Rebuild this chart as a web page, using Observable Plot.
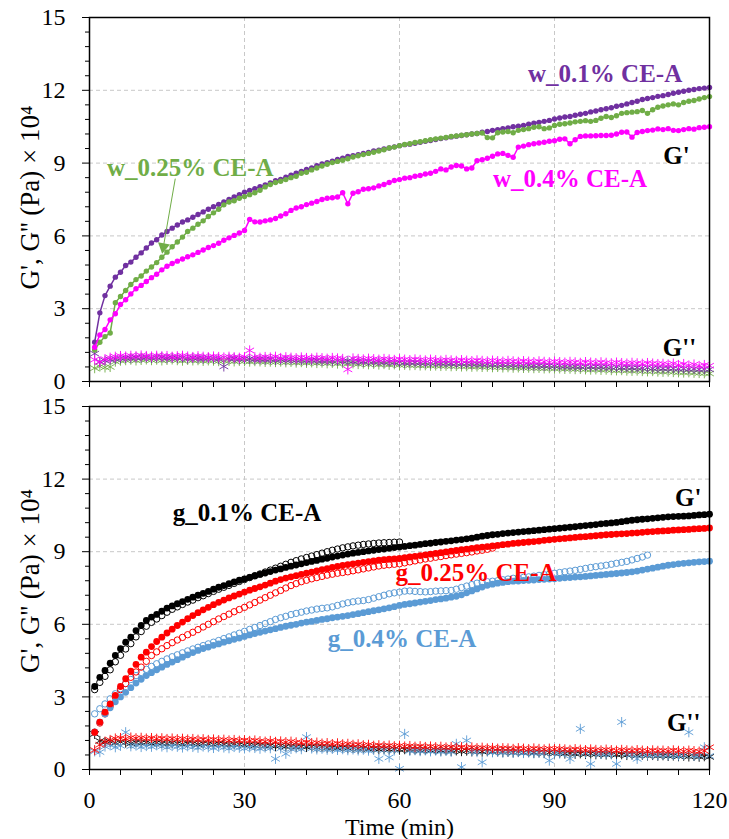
<!DOCTYPE html>
<html><head><meta charset="utf-8">
<script src="https://cdn.jsdelivr.net/npm/d3@7"></script>
<script src="https://cdn.jsdelivr.net/npm/@observablehq/plot@0.6"></script>
<style>
html,body{margin:0;padding:0;background:#fff;}
#chart svg{display:block;}
#chart svg text{font-family:"Liberation Serif","Times New Roman",serif !important;}
</style>
</head><body><div id="chart"></div>
<script>
// ---------- axis ticks ----------
const xMajor = [0, 30, 60, 90, 120];
const xMinor = [6,12,18,24,36,42,48,54,66,72,78,84,96,102,108,114];
const yMajor = [0, 3, 6, 9, 12, 15];
const yMinor = [0.6,1.2,1.8,2.4,3.6,4.2,4.8,5.4,6.6,7.2,7.8,8.4,9.6,10.2,10.8,11.4,12.6,13.2,13.8,14.4];
const xTitle = "Time (min)";
const yTitle = "G', G'' (Pa) × 10⁴";

// ---------- top panel (w_ series), one value per minute from t = 1 ----------
const w01_G1 = [
1.62,2.83,3.54,3.93,4.30,4.50,4.78,4.92,5.12,5.30,
5.50,5.71,5.84,6.04,6.18,6.32,6.45,6.57,6.66,6.77,
6.88,6.99,7.10,7.20,7.30,7.40,7.50,7.60,7.70,7.80,
7.87,7.95,8.03,8.10,8.18,8.27,8.33,8.42,8.50,8.58,
8.66,8.74,8.80,8.89,8.96,9.02,9.08,9.15,9.20,9.27,
9.31,9.35,9.40,9.44,9.50,9.53,9.58,9.62,9.67,9.72,
9.76,9.78,9.82,9.86,9.90,9.93,9.97,10.01,10.04,10.08,
10.11,10.14,10.17,10.20,10.22,10.27,10.30,10.35,10.38,10.42,
10.45,10.50,10.52,10.55,10.60,10.64,10.68,10.72,10.76,10.82,
10.86,10.90,10.92,10.97,11.01,11.05,11.11,11.15,11.20,11.24,
11.28,11.34,11.38,11.44,11.50,11.55,11.62,11.66,11.70,11.75,
11.78,11.83,11.88,11.92,11.96,12.00,12.03,12.07,12.09,12.12];
const w025_G1 = [
1.30,1.62,1.85,2.00,3.25,3.50,3.75,4.00,4.20,4.35,
4.55,4.72,4.90,5.12,5.33,5.55,5.75,5.95,6.18,6.32,
6.48,6.62,6.80,6.95,7.10,7.28,7.40,7.45,7.55,7.62,
7.70,7.78,7.88,8.02,8.12,8.20,8.25,8.32,8.40,8.46,
8.58,8.62,8.72,8.80,8.88,8.95,9.02,9.07,9.12,9.18,
9.25,9.30,9.35,9.40,9.45,9.50,9.55,9.62,9.66,9.72,
9.77,9.80,9.85,9.88,9.92,9.96,10.00,10.03,10.06,10.10,
10.12,10.15,10.17,10.20,10.22,10.24,10.05,10.04,10.25,10.28,
10.30,10.25,10.35,10.38,10.42,10.48,10.50,10.42,10.45,10.55,
10.60,10.62,10.65,10.70,10.72,10.75,10.72,10.76,10.85,10.92,
10.88,10.95,11.05,11.08,11.10,11.12,11.17,11.05,11.20,11.30,
11.35,11.40,11.44,11.40,11.50,11.55,11.58,11.64,11.70,11.74];
const w04_G1 = [
1.41,1.92,2.14,2.54,2.79,3.17,3.37,3.61,3.82,3.96,
4.12,4.28,4.42,4.60,4.75,4.86,4.96,5.05,5.14,5.22,
5.32,5.42,5.52,5.60,5.70,5.82,5.92,6.02,6.12,6.22,
6.68,6.58,6.57,6.62,6.66,6.72,6.82,6.91,7.05,7.15,
7.20,7.29,7.35,7.42,7.50,7.55,7.57,7.60,7.78,7.32,
7.76,7.82,7.92,7.94,7.98,8.06,8.12,8.20,8.28,8.32,
8.38,8.40,8.46,8.49,8.55,8.58,8.66,8.76,8.72,8.84,
8.90,8.88,8.76,8.80,9.10,9.14,9.20,9.28,9.38,9.40,
9.32,9.24,9.66,9.70,9.76,9.80,9.83,9.86,9.90,9.92,
9.98,10.00,9.80,9.96,10.10,10.12,10.12,10.13,10.14,10.14,
10.15,10.20,10.27,10.28,10.07,10.26,10.30,10.34,10.36,10.41,
10.38,10.42,10.35,10.34,10.38,10.42,10.40,10.46,10.48,10.50];
const w01_G2 = [
1.15,0.82,0.86,0.90,0.93,0.95,0.97,0.96,0.99,0.98,
1.00,0.97,0.99,1.00,0.96,0.98,0.97,0.99,0.95,0.97,
0.96,0.94,0.97,0.95,0.93,0.62,0.94,0.95,0.92,0.94,
0.93,0.91,0.92,0.90,0.92,0.89,0.91,0.88,0.90,0.87,
0.89,0.86,0.88,0.87,0.85,0.86,0.84,0.86,0.83,0.85,
0.82,0.84,0.81,0.83,0.80,0.82,0.79,0.81,0.78,0.80,
0.77,0.78,0.79,0.76,0.77,0.75,0.77,0.74,0.76,0.73,
0.75,0.72,0.74,0.71,0.73,0.70,0.72,0.69,0.71,0.68,
0.70,0.67,0.69,0.66,0.68,0.65,0.67,0.64,0.66,0.63,
0.65,0.62,0.64,0.62,0.61,0.63,0.60,0.62,0.59,0.61,
0.58,0.60,0.57,0.59,0.56,0.58,0.55,0.57,0.54,0.56,
0.53,0.55,0.54,0.52,0.53,0.51,0.52,0.50,0.51,0.50];
const w025_G2 = [
0.55,0.62,0.58,0.60,0.82,0.86,0.88,0.90,0.87,0.89,
0.91,0.88,0.90,0.87,0.89,0.91,0.88,0.86,0.89,0.87,
0.88,0.85,0.87,0.86,0.84,0.86,0.85,0.83,0.85,0.84,
0.82,0.84,0.83,0.81,0.82,0.80,0.82,0.79,0.81,0.78,
0.80,0.77,0.79,0.76,0.78,0.75,0.77,0.74,0.76,0.73,
0.75,0.72,0.74,0.71,0.73,0.70,0.72,0.69,0.71,0.68,
0.69,0.67,0.68,0.66,0.67,0.65,0.66,0.64,0.65,0.63,
0.64,0.62,0.63,0.61,0.62,0.60,0.61,0.59,0.60,0.58,
0.59,0.57,0.58,0.56,0.57,0.55,0.56,0.54,0.55,0.53,
0.54,0.52,0.53,0.51,0.52,0.50,0.49,0.50,0.48,0.49,
0.47,0.46,0.47,0.45,0.44,0.45,0.43,0.42,0.43,0.41,
0.40,0.41,0.39,0.38,0.37,0.38,0.36,0.35,0.34,0.33];
const w04_G2 = [
0.90,0.80,0.92,0.98,1.02,1.05,1.03,1.06,1.04,1.07,
1.05,1.03,1.06,1.04,1.05,1.02,1.04,1.06,1.03,1.01,
1.04,1.02,1.00,1.03,1.01,0.99,1.02,1.00,0.98,1.01,
1.28,1.00,0.98,1.01,0.99,1.02,0.97,1.00,0.98,0.96,
0.99,0.97,0.95,0.98,0.96,0.94,0.97,0.95,0.93,0.50,
0.95,0.93,0.91,0.94,0.92,0.90,0.93,0.91,0.89,0.92,
0.90,0.88,0.91,0.89,0.87,0.90,0.88,0.86,0.89,0.87,
0.85,0.88,0.86,0.84,0.87,0.85,0.83,0.86,0.84,0.82,
0.85,0.83,0.81,0.84,0.82,0.80,0.83,0.81,0.79,0.82,
0.80,0.78,0.81,0.79,0.77,0.80,0.78,0.76,0.79,0.77,
0.75,0.78,0.76,0.74,0.77,0.75,0.73,0.76,0.74,0.72,
0.73,0.70,0.74,0.68,0.72,0.66,0.70,0.64,0.68,0.65];

// ---------- bottom panel (g_ series) ----------
const g01_G1 = [
3.43,3.81,4.09,4.39,4.71,4.99,5.26,5.47,5.74,5.95,
6.16,6.30,6.41,6.54,6.67,6.76,6.85,6.94,7.03,7.12,
7.20,7.28,7.36,7.45,7.53,7.60,7.68,7.75,7.82,7.88,
7.94,8.00,8.06,8.12,8.18,8.24,8.29,8.35,8.40,8.45,
8.50,8.55,8.60,8.64,8.69,8.73,8.78,8.82,8.86,8.90,
8.94,8.97,9.00,9.03,9.06,9.09,9.11,9.14,9.17,9.19,
9.22,9.25,9.27,9.30,9.33,9.35,9.38,9.40,9.43,9.45,
9.48,9.50,9.53,9.56,9.60,9.64,9.67,9.70,9.72,9.75,
9.77,9.79,9.81,9.83,9.85,9.87,9.89,9.91,9.93,9.95,
9.97,9.99,10.01,10.03,10.06,10.08,10.10,10.12,10.15,10.17,
10.19,10.21,10.24,10.27,10.30,10.32,10.34,10.36,10.38,10.40,
10.42,10.44,10.45,10.46,10.47,10.48,10.50,10.52,10.53,10.55];
const g01_G1b = [
3.30,3.60,3.85,4.12,4.45,4.72,4.98,5.20,5.48,5.70,
5.92,6.08,6.22,6.36,6.50,6.62,6.72,6.82,6.92,7.00,
7.10,7.18,7.27,7.36,7.45,7.53,7.61,7.69,7.77,7.85,
7.93,8.01,8.08,8.16,8.24,8.32,8.40,8.48,8.56,8.63,
8.70,8.76,8.82,8.88,8.94,9.00,9.06,9.11,9.16,9.20,
9.24,9.27,9.30,9.32,9.34,9.36,9.37,9.38,9.39,9.40];
const g025_G1 = [
1.54,1.96,2.37,2.71,3.06,3.43,3.75,4.06,4.34,4.64,
4.85,5.08,5.29,5.47,5.64,5.80,5.95,6.09,6.23,6.36,
6.48,6.60,6.70,6.81,6.91,7.00,7.09,7.17,7.25,7.33,
7.41,7.48,7.55,7.62,7.70,7.78,7.85,7.91,7.96,8.01,
8.06,8.11,8.16,8.21,8.26,8.30,8.35,8.39,8.43,8.47,
8.50,8.53,8.56,8.59,8.62,8.65,8.67,8.69,8.70,8.72,
8.75,8.78,8.81,8.84,8.87,8.90,8.93,8.96,8.99,9.02,
9.05,9.08,9.11,9.14,9.17,9.19,9.21,9.24,9.26,9.29,
9.31,9.34,9.36,9.38,9.40,9.42,9.44,9.47,9.49,9.51,
9.53,9.55,9.57,9.59,9.61,9.62,9.64,9.66,9.68,9.70,
9.71,9.73,9.74,9.75,9.77,9.78,9.80,9.82,9.83,9.85,
9.86,9.87,9.89,9.90,9.91,9.92,9.94,9.95,9.96,9.98];
const g025_G1b = [
1.54,1.92,2.30,2.62,3.00,3.30,3.55,3.81,4.03,4.23,
4.47,4.71,4.86,4.99,5.12,5.24,5.35,5.46,5.57,5.67,
5.78,5.89,6.00,6.11,6.22,6.32,6.42,6.52,6.61,6.70,
6.80,6.90,7.00,7.10,7.20,7.30,7.40,7.50,7.60,7.68,
7.76,7.82,7.88,7.93,7.98,8.03,8.07,8.11,8.14,8.17,
8.21,8.25,8.29,8.33,8.37,8.41,8.44,8.46,8.48,8.50,
8.54,8.58,8.62,8.66,8.70,8.73,8.77,8.80,8.84,8.87,
8.90,8.93,8.96,8.99,9.03,9.06,9.10,9.15];
const g04_G1 = [
1.55,1.96,2.29,2.55,2.80,3.00,3.19,3.38,3.57,3.73,
3.88,4.00,4.12,4.23,4.34,4.44,4.54,4.64,4.74,4.83,
4.92,5.00,5.06,5.13,5.19,5.26,5.32,5.38,5.43,5.50,
5.56,5.62,5.67,5.72,5.77,5.82,5.87,5.92,5.96,6.00,
6.05,6.09,6.12,6.16,6.20,6.23,6.27,6.30,6.33,6.36,
6.40,6.44,6.48,6.52,6.56,6.60,6.64,6.68,6.73,6.78,
6.82,6.85,6.88,6.92,6.95,6.98,7.02,7.05,7.08,7.12,
7.16,7.22,7.30,7.38,7.46,7.54,7.61,7.66,7.70,7.73,
7.76,7.78,7.79,7.81,7.82,7.83,7.85,7.86,7.87,7.88,
7.90,7.92,7.93,7.95,7.96,7.98,8.00,8.02,8.04,8.06,
8.08,8.10,8.12,8.14,8.17,8.20,8.24,8.28,8.32,8.36,
8.40,8.44,8.47,8.50,8.52,8.54,8.56,8.58,8.59,8.61];
const g04_G1b = [
2.30,2.51,2.71,2.92,3.13,3.34,3.55,3.72,3.88,4.01,
4.14,4.26,4.37,4.47,4.57,4.66,4.74,4.82,4.90,4.98,
5.05,5.12,5.19,5.26,5.33,5.41,5.48,5.56,5.63,5.71,
5.79,5.87,5.95,6.03,6.11,6.20,6.27,6.33,6.40,6.45,
6.50,6.55,6.59,6.63,6.66,6.68,6.72,6.78,6.84,6.89,
6.93,6.96,6.98,7.02,7.08,7.14,7.20,7.26,7.30,7.33,
7.37,7.38,7.36,7.35,7.34,7.35,7.37,7.38,7.39,7.40,
7.45,7.52,7.58,7.64,7.70,7.74,7.76,7.78,7.80,7.84,
7.87,7.90,7.92,7.94,7.96,7.99,8.02,8.05,8.08,8.11,
8.14,8.17,8.20,8.23,8.27,8.31,8.35,8.38,8.41,8.44,
8.48,8.52,8.56,8.60,8.66,8.72,8.78,8.86];
const g01_G2 = [
1.47,1.18,1.12,1.15,1.10,1.14,1.11,1.08,1.13,1.10,
1.12,1.07,1.11,1.09,1.06,1.10,1.08,1.05,1.09,1.07,
1.04,1.08,1.06,1.03,1.07,1.05,1.02,1.06,1.04,1.01,
1.03,0.99,1.02,0.98,1.00,0.96,0.99,0.95,0.97,0.94,
0.96,0.93,0.95,0.91,0.94,0.90,0.92,0.89,0.91,0.88,
0.90,0.86,0.89,0.85,0.87,0.84,0.86,0.83,0.85,0.82,
0.84,0.81,0.83,0.80,0.82,0.79,0.81,0.78,0.80,0.77,
0.79,0.76,0.78,0.75,0.77,0.74,0.76,0.73,0.75,0.72,
0.74,0.71,0.73,0.70,0.72,0.69,0.71,0.68,0.70,0.67,
0.69,0.66,0.68,0.65,0.67,0.64,0.66,0.63,0.65,0.62,
0.64,0.61,0.63,0.60,0.62,0.59,0.61,0.58,0.60,0.57,
0.59,0.56,0.58,0.55,0.57,0.54,0.56,0.53,0.55,0.52];
const g025_G2 = [
0.80,1.02,1.15,1.22,1.28,1.30,1.27,1.32,1.29,1.31,
1.28,1.30,1.27,1.29,1.26,1.28,1.25,1.27,1.24,1.26,
1.23,1.25,1.22,1.24,1.21,1.23,1.20,1.22,1.19,1.21,
1.18,1.20,1.17,1.15,1.18,1.14,1.16,1.13,1.15,1.12,
1.10,1.13,1.09,1.11,1.07,1.09,1.05,1.08,1.04,1.06,
1.02,1.04,1.00,1.02,0.98,1.00,0.97,0.99,0.96,0.98,
0.95,0.97,0.94,0.96,0.93,0.95,0.92,0.94,0.91,0.93,
0.90,0.92,0.89,0.91,0.88,0.90,0.87,0.89,0.86,0.88,
0.87,0.85,0.88,0.86,0.84,0.87,0.85,0.83,0.86,0.84,
0.85,0.83,0.81,0.84,0.82,0.80,0.83,0.81,0.79,0.82,
0.80,0.78,0.81,0.79,0.77,0.80,0.78,0.76,0.79,0.77,
0.78,0.76,0.79,0.77,0.75,0.78,0.76,0.74,0.77,0.92];
const g04_G2 = [
0.75,0.72,0.95,1.00,0.92,0.98,1.54,0.96,0.99,0.93,
0.97,0.94,1.00,0.95,0.92,0.97,0.94,0.91,0.96,0.93,
0.90,0.95,0.92,0.89,0.94,0.91,0.88,0.93,0.90,0.87,
0.92,0.89,0.86,0.91,0.88,0.44,0.87,0.65,0.85,0.88,
0.84,1.34,0.87,0.83,0.86,0.82,0.85,0.81,0.84,0.80,
0.83,0.79,0.82,0.78,0.81,0.44,0.80,0.50,0.79,0.03,
1.47,0.77,0.80,0.76,0.79,0.75,0.78,0.74,0.77,0.73,
1.06,0.10,1.20,0.76,0.72,0.30,0.75,0.71,0.74,0.70,
0.73,0.69,0.72,0.68,0.71,0.67,0.70,0.68,0.37,0.69,
0.66,0.70,0.44,0.69,1.68,0.68,0.23,0.67,0.64,0.66,
0.63,0.23,1.96,0.65,0.62,0.44,0.64,0.61,0.63,0.60,
0.62,0.59,0.61,0.58,0.60,1.54,0.57,0.59,0.92,0.56];

// ---------- annotations (data units) ----------
const topLabels = ["w_0.1% CE-A", "w_0.25% CE-A", "w_0.4% CE-A", "G'", "G''"];
const topLabelT = [99.8, 19.5, 93.0, 113.6, 114.2];
const topLabelV = [12.69, 8.78, 8.36, 9.31, 1.40];
const topLabelColor = ["#7030A0", "#70AD47", "#FF00FF", "#000000", "#000000"];
const botLabels = ["g_0.1% CE-A", "g_0.25% CE-A", "g_0.4% CE-A", "G'", "G''"];
const botLabelT = [30.5, 74.8, 60.5, 115.9, 115.0];
const botLabelV = [10.58, 8.14, 5.41, 11.2, 1.94];
const botLabelColor = ["#000000", "#FF0000", "#5B9BD5", "#000000", "#000000"];
const arrowFrom = {t: 16.6, v: 8.36};
const arrowTo = {t: 14.3, v: 5.55};

// ---------- build ----------
const pts = arr => arr.map((v, i) => ({t: i + 1, v}));
const FONT = "Liberation Serif";
const C = {purple:"#7030A0", green:"#70AD47", magenta:"#FF00FF", black:"#000000", red:"#FF0000", blue:"#5B9BD5"};

function labelMarks(texts, ts, vs, colors) {
  return texts.map((s, i) => Plot.text([{t: ts[i], v: vs[i], s}], {
    x: "t", y: "v", text: "s", fill: colors[i], fontWeight: "bold", fontSize: 25, fontFamily: FONT
  }));
}

function panel({height, marginTop, marginBottom, showX, titleDy, marks}) {
  return Plot.plot({
    width: 729, height, marginTop, marginBottom, marginLeft: 89, marginRight: 20,
    style: {fontFamily: FONT, fontSize: "24px", color: "black", background: "white", overflow: "visible"},
    x: {domain: [0, 120]},
    y: {domain: [0, 15]},
    marks: [
      Plot.gridX(xMajor.slice(1, -1), {stroke: "#c8c8c8", strokeOpacity: 1, strokeDasharray: "4,3"}),
      Plot.gridY(yMajor.slice(1, -1), {stroke: "#c8c8c8", strokeOpacity: 1, strokeDasharray: "4,3"}),
      ...marks,
      Plot.frame({stroke: "black", strokeWidth: 1.5}),
      Plot.axisY(yMinor, {tickSize: 4, tickFormat: () => "", label: null}),
      Plot.axisY(yMajor, {tickSize: 7, tickPadding: 17, label: null, fontSize: 24}),
      Plot.axisX(xMinor, {tickSize: 6, tickFormat: () => "", label: null}),
      Plot.axisX(xMajor, {tickSize: 6, tickPadding: 15, tickFormat: showX ? (d => String(d)) : (() => ""), label: null, fontSize: 24}),
      Plot.text([yTitle], {text: d => d, frameAnchor: "left", textAnchor: "middle", lineAnchor: "middle", dx: -59, dy: titleDy, rotate: -90, fontSize: 27, fontFamily: FONT}),
      ...(showX ? [Plot.text([xTitle], {text: d => d, frameAnchor: "bottom", lineAnchor: "middle", dy: 58, fontSize: 24, fontFamily: FONT})] : [])
    ]
  });
}

const star = (arr, color) => Plot.dot(pts(arr), {x: "t", y: "v", symbol: "asterisk", r: 4.8, stroke: color, strokeWidth: 1, strokeOpacity: 0.9});
const lineDots = (arr, color) => [
  Plot.line(pts(arr), {x: "t", y: "v", stroke: color, strokeWidth: 1.5}),
  Plot.dot(pts(arr), {x: "t", y: "v", r: 2.7, fill: color})
];
const filled = (arr, color) => Plot.dot(pts(arr), {x: "t", y: "v", r: 3.4, fill: color});
const open = (arr, color) => Plot.dot(pts(arr), {x: "t", y: "v", r: 3.2, stroke: color, strokeWidth: 1, fill: "none"});

const topChart = panel({
  height: 392, marginTop: 17, marginBottom: 11, showX: false, titleDy: -2,
  marks: [
    star(w025_G2, C.green), star(w01_G2, C.purple), star(w04_G2, C.magenta),
    ...lineDots(w01_G1, C.purple), ...lineDots(w025_G1, C.green), ...lineDots(w04_G1, C.magenta),
    Plot.link([{a: arrowFrom, b: arrowTo}], {x1: d => d.a.t, y1: d => d.a.v, x2: d => d.b.t, y2: d => d.b.v, stroke: C.green, strokeWidth: 1}),
    Plot.dot([arrowTo], {x: "t", y: "v", symbol: "triangle", r: 4.5, fill: C.green, rotate: 190}),
    ...labelMarks(topLabels, topLabelT, topLabelV, topLabelColor)
  ]
});

const bottomChart = panel({
  height: 447, marginTop: 14, marginBottom: 70, showX: true, titleDy: -7,
  marks: [
    star(g01_G2, C.black), star(g04_G2, C.blue), star(g025_G2, C.red),
    open(g04_G1b, C.blue), open(g025_G1b, C.red), open(g01_G1b, C.black),
    filled(g04_G1, C.blue), filled(g025_G1, C.red), filled(g01_G1, C.black),
    ...labelMarks(botLabels, botLabelT, botLabelV, botLabelColor)
  ]
});

const root = document.getElementById("chart");
root.appendChild(topChart);
root.appendChild(bottomChart);
</script>
</body></html>
